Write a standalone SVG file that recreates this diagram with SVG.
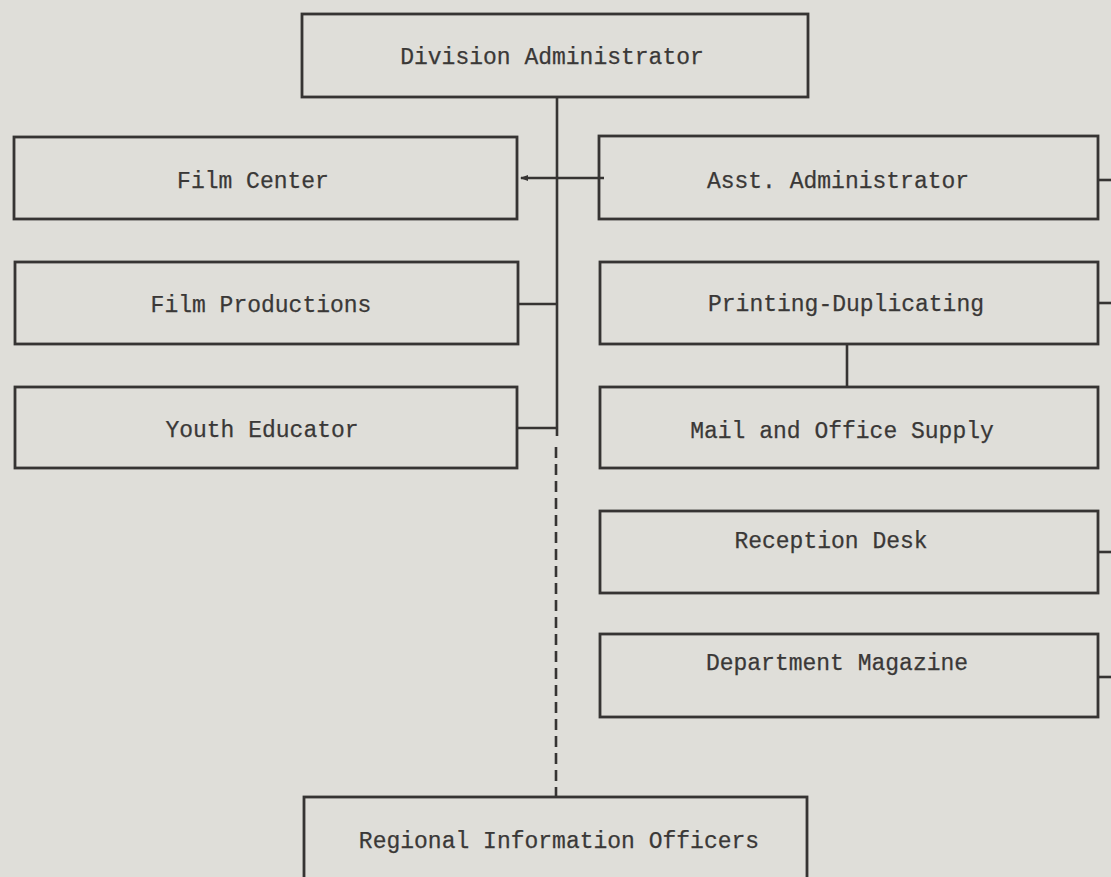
<svg xmlns="http://www.w3.org/2000/svg" width="1111" height="877" viewBox="0 0 1111 877">
<style>
.box{fill:none;stroke:#363433;stroke-width:2.8}
.ln{fill:none;stroke:#363433;stroke-width:2.6}
.dash{fill:none;stroke:#363433;stroke-width:2.6;stroke-dasharray:11 6}
.t{font-family:"Liberation Mono","Courier New",monospace;font-size:23px;fill:#3a3837;text-anchor:middle;stroke:#3a3837;stroke-width:0.25}
</style>
<defs>
<marker id="ah" markerWidth="9" markerHeight="8" refX="7" refY="4" orient="auto" markerUnits="userSpaceOnUse">
<path d="M8,4 L0,1 L0,7 Z" fill="#363433"/>
</marker>
</defs>
<rect width="1111" height="877" fill="#dfded9"/>
<g id="connectors">
<path class="ln" d="M557,97 V436"/>
<path class="dash" d="M556,447 V797"/>
<path class="ln" d="M604,178 H521" marker-end="url(#ah)"/>
<path class="ln" d="M517,304 H557"/>
<path class="ln" d="M517,428 H557"/>
<path class="ln" d="M847,344 V387"/>
<path class="ln" d="M1098,180 H1111"/>
<path class="ln" d="M1098,303 H1111"/>
<path class="ln" d="M1098,552 H1111"/>
<path class="ln" d="M1098,677 H1111"/>
</g>
<g id="division-administrator">
<rect class="box" x="302" y="14" width="506" height="83"/>
<text class="t" x="552" y="64">Division Administrator</text>
</g>
<g id="film-center">
<rect class="box" x="14" y="137" width="503" height="82"/>
<text class="t" x="253" y="188">Film Center</text>
</g>
<g id="film-productions">
<rect class="box" x="15" y="262" width="503" height="82"/>
<text class="t" x="261" y="312">Film Productions</text>
</g>
<g id="youth-educator">
<rect class="box" x="15" y="387" width="502" height="81"/>
<text class="t" x="262" y="437">Youth Educator</text>
</g>
<g id="asst-administrator">
<rect class="box" x="599" y="136" width="499" height="83"/>
<text class="t" x="838" y="188">Asst. Administrator</text>
</g>
<g id="printing-duplicating">
<rect class="box" x="600" y="262" width="498" height="82"/>
<text class="t" x="846" y="311">Printing-Duplicating</text>
</g>
<g id="mail-office-supply">
<rect class="box" x="600" y="387" width="498" height="81"/>
<text class="t" x="842" y="438">Mail and Office Supply</text>
</g>
<g id="reception-desk">
<rect class="box" x="600" y="511" width="498" height="82"/>
<text class="t" x="831" y="548">Reception Desk</text>
</g>
<g id="department-magazine">
<rect class="box" x="600" y="634" width="498" height="83"/>
<text class="t" x="837" y="670">Department Magazine</text>
</g>
<g id="regional-information-officers">
<rect class="box" x="304" y="797" width="503" height="100"/>
<text class="t" x="559" y="848">Regional Information Officers</text>
</g>
</svg>
